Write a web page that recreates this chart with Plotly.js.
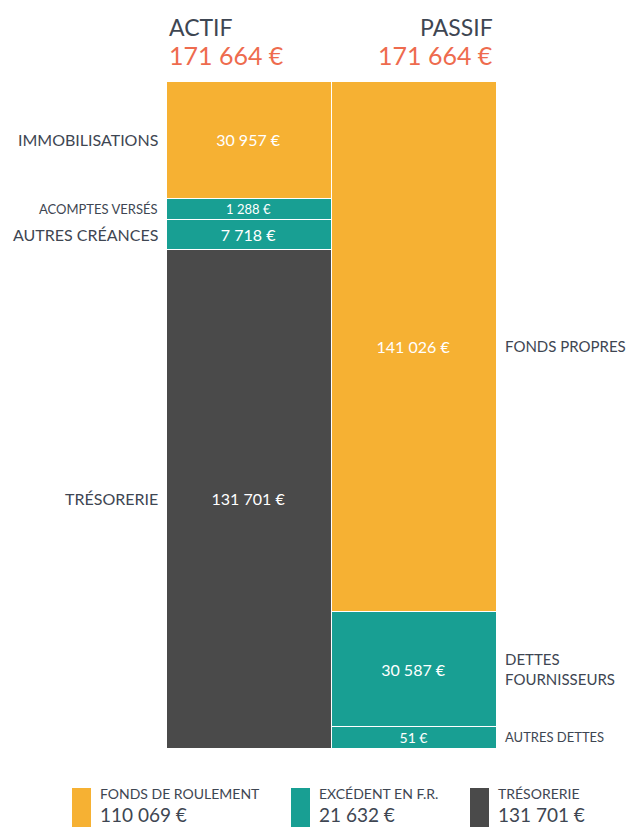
<!DOCTYPE html>
<html><head><meta charset="utf-8">
<script src="https://cdn.plot.ly/plotly-3.0.1.min.js"></script>
<style>html,body{margin:0;padding:0;background:#fff;}#chart{width:637px;height:827px;}</style>
</head><body><div id="chart"></div>
<script>
// ---- data (bottom to top in each column) ----
const categories = ['ACTIF', 'PASSIF'];
const actifLabels = ['TRÉSORERIE', 'AUTRES CRÉANCES', 'ACOMPTES VERSÉS', 'IMMOBILISATIONS'];
const actifValues = [131701, 7718, 1288, 30957];
const passifLabels = ['AUTRES DETTES', 'DETTES<br>FOURNISSEURS', 'FONDS PROPRES'];
const passifValues = [51, 30587, 141026];
const legendLabels = ['FONDS DE ROULEMENT', 'EXCÉDENT EN F.R.', 'TRÉSORERIE'];
const legendValues = [110069, 21632, 131701];

// ---- styles ----
const ORANGE = '#F6B133', TEAL = '#189F93', DARK = '#4A4A4A';
const actifColors = [DARK, TEAL, TEAL, ORANGE];
const passifColors = [TEAL, TEAL, ORANGE];
const actifLabelSize = [16, 16, 13, 16];
const actifValueSize = [16, 16, 13, 16];
const passifLabelSize = [13, 15, 15];
const passifValueSize = [14, 16, 16];
const TXT = '#3E4652', CORAL = '#EE6B4E', FONT = 'Lato, "Open Sans", sans-serif';
const MIN_FRAC = 0.033; // minimum visual share of a segment

function fmt(v) { return String(v).replace(/\B(?=(\d{3})+(?!\d))/g, '\u00a0') + '\u00a0€'; }
function sum(a) { return a.reduce((s, x) => s + x, 0); }

const total = sum(actifValues);
function displayVals(vals) {
  const t = sum(vals);
  const d = vals.map(v => Math.max(v, MIN_FRAC * t));
  const k = t / sum(d);
  return d.map(v => v * k);
}

const traces = [], annotations = [];
function addColumn(cat, labels, values, colors, lblSize, valSize, side) {
  const disp = displayVals(values);
  let base = 0;
  values.forEach((v, i) => {
    traces.push({
      type: 'bar', x: [cat], y: [disp[i]], name: labels[i],
      text: [fmt(v)], textposition: 'inside', insidetextanchor: 'middle',
      constraintext: 'none', cliponaxis: false,
      textfont: { family: FONT, size: valSize[i], color: '#ffffff' },
      marker: { color: colors[i], line: { color: '#ffffff', width: 1 } },
      hoverinfo: 'skip', showlegend: false
    });
    const mid = base + disp[i] / 2;
    annotations.push({
      xref: 'paper', yref: 'y', x: side === 'left' ? 0 : 1, y: mid,
      xanchor: side === 'left' ? 'right' : 'left', yanchor: 'middle',
      xshift: side === 'left' ? -6 : 7, align: 'left',
      text: labels[i], showarrow: false,
      font: { family: FONT, size: lblSize[i], color: TXT }
    });
    base += disp[i];
  });
}
addColumn(categories[0], actifLabels, actifValues, actifColors, actifLabelSize, actifValueSize, 'left');
addColumn(categories[1], passifLabels, passifValues, passifColors, passifLabelSize, passifValueSize, 'right');

// column headers
[[categories[0], sum(actifValues), 0, 'left'], [categories[1], sum(passifValues), 1, 'right']].forEach(([c, t, x, anc]) => {
  annotations.push({ xref: 'paper', yref: 'paper', x: x, y: 1, xanchor: anc, yanchor: 'middle', yshift: 54,
    xshift: anc === 'left' ? 1 : -1,
    text: c, showarrow: false, font: { family: FONT, size: 23, color: TXT } });
  annotations.push({ xref: 'paper', yref: 'paper', x: x, y: 1, xanchor: anc, yanchor: 'middle', yshift: 26,
    xshift: anc === 'left' ? 1 : -1,
    text: fmt(t), showarrow: false, font: { family: FONT, size: 25, color: CORAL } });
});

// legend (drawn in pixel-based paper coordinates)
const L = 166, T = 81, W = 330, H = 667;
const px = x => (x - L) / W, py = y => 1 - (y - T) / H;
const legendColors = [ORANGE, TEAL, DARK];
const legendX = [72, 291, 470];
const shapes = [];
legendLabels.forEach((lab, i) => {
  shapes.push({ type: 'rect', xref: 'paper', yref: 'paper', x0: px(legendX[i]), x1: px(legendX[i] + 19),
    y0: py(788), y1: py(830), fillcolor: legendColors[i], line: { width: 0 } });
  annotations.push({ xref: 'paper', yref: 'paper', x: px(legendX[i] + 27), y: py(803), xanchor: 'left', yanchor: 'bottom',
    borderpad: 0, text: lab, showarrow: false, font: { family: FONT, size: 14, color: TXT } });
  annotations.push({ xref: 'paper', yref: 'paper', x: px(legendX[i] + 27), y: py(802), xanchor: 'left', yanchor: 'top',
    borderpad: 0, text: fmt(legendValues[i]), showarrow: false, font: { family: FONT, size: 19, color: TXT } });
});

const layout = {
  width: 637, height: 827,
  margin: { l: L, r: 637 - L - W, t: T, b: 827 - T - H },
  paper_bgcolor: '#ffffff', plot_bgcolor: '#ffffff',
  barmode: 'stack', bargap: 0,
  showlegend: false,
  xaxis: { visible: false, type: 'category', categoryarray: categories, fixedrange: true },
  yaxis: { visible: false, range: [0, total], fixedrange: true },
  annotations: annotations, shapes: shapes,
  font: { family: FONT }
};
Plotly.newPlot('chart', traces, layout, { displayModeBar: false, staticPlot: true });
</script></body></html>
